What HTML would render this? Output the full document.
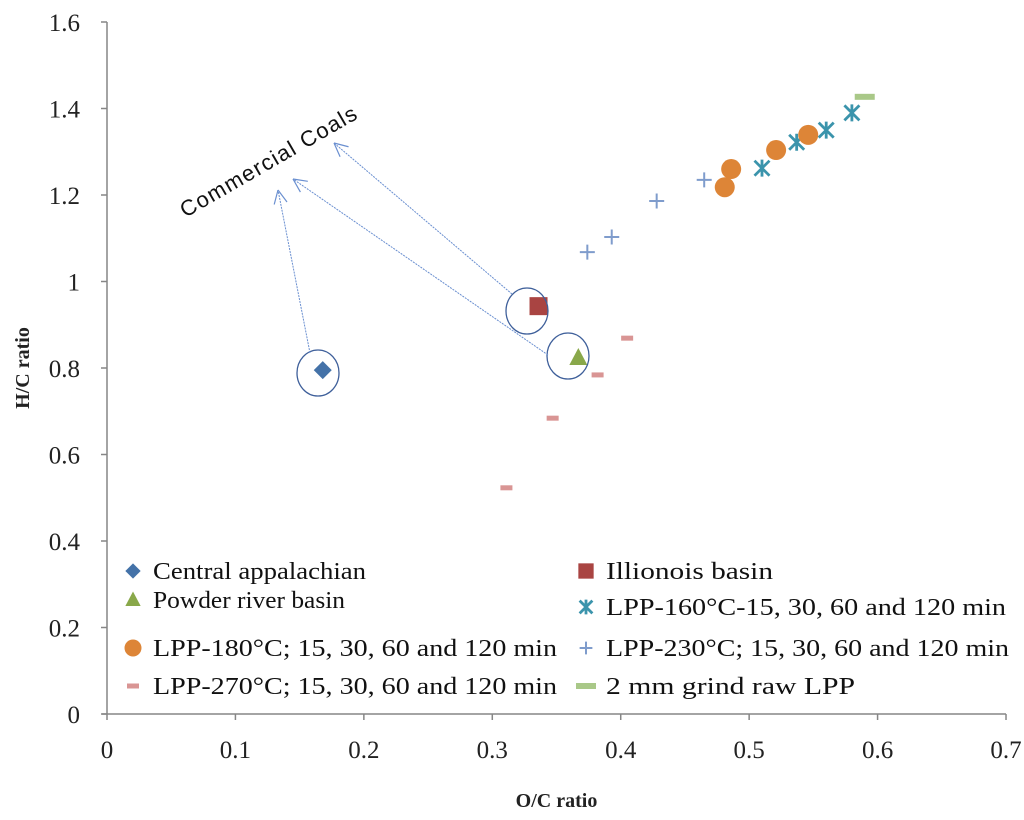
<!DOCTYPE html>
<html><head><meta charset="utf-8"><style>
html,body{margin:0;padding:0;background:#fff;}
svg text{font-family:"Liberation Serif",serif;}
</style></head><body>
<svg id="chart" width="1024" height="815" xmlns="http://www.w3.org/2000/svg">
<g id="axes"></g><g id="marks"></g><g id="annot"></g><g id="legend"></g>
</svg>
<script>
const xTicks=[0,0.1,0.2,0.3,0.4,0.5,0.6,0.7];
const yTicks=[0,0.2,0.4,0.6,0.8,1,1.2,1.4,1.6];
const centralX=[0.168], centralY=[0.795];
const illinoisX=[0.336], illinoisY=[0.943];
const powderX=[0.367], powderY=[0.823];
const lpp160X=[0.510,0.537,0.560,0.580], lpp160Y=[1.262,1.322,1.350,1.390];
const lpp180X=[0.481,0.486,0.521,0.546], lpp180Y=[1.218,1.260,1.304,1.339];
const lpp230X=[0.374,0.393,0.428,0.465], lpp230Y=[1.068,1.103,1.186,1.235];
const lpp270X=[0.311,0.347,0.382,0.405], lpp270Y=[0.523,0.684,0.784,0.869];
const rawX=[0.590], rawY=[1.427];

const NS="http://www.w3.org/2000/svg";
const X0=107,XS=1284.3,Y0=714,YS=432.5;
const sx=v=>X0+v*XS, sy=v=>Y0-v*YS;
function mk(tag,attrs,parent,txt){const e=document.createElementNS(NS,tag);for(const k in attrs)e.setAttribute(k,attrs[k]);if(txt!==undefined)e.textContent=txt;parent.appendChild(e);return e;}
const axes=document.getElementById('axes'),marks=document.getElementById('marks'),annot=document.getElementById('annot'),legend=document.getElementById('legend');

let a=mk('line',{x1:X0,y1:sy(1.6),x2:X0,y2:Y0,stroke:'#868686','stroke-width':1.5},axes);

a=mk('line',{x1:X0-5,y1:Y0,x2:sx(0.7),y2:Y0,stroke:'#868686','stroke-width':1.5},axes);

xTicks.forEach(t=>{
  const l=mk('line',{x1:sx(t),y1:Y0,x2:sx(t),y2:Y0+6,stroke:'#868686','stroke-width':1.5},axes);
  
  const tx=mk('text',{x:sx(t),y:Y0+44,'text-anchor':'middle','font-size':25,fill:'#222'},axes,String(t));
  
});
yTicks.forEach(t=>{
  const l=mk('line',{x1:X0-6,y1:sy(t),x2:X0,y2:sy(t),stroke:'#868686','stroke-width':1.5},axes);
  
  const tx=mk('text',{x:80,y:sy(t)+9,'text-anchor':'end','font-size':25,fill:'#222'},axes,String(t));
  
});
let t=mk('text',{x:sx(0.35),y:807,'text-anchor':'middle','font-size':20,'font-weight':'bold',fill:'#222'},axes,'O/C ratio');

t=mk('text',{x:0,y:0,'text-anchor':'middle','font-size':20,'font-weight':'bold',fill:'#222',transform:'translate(29,368) rotate(-90)'},axes,'H/C ratio');


function marker(type,x,y,g,s){
  s=s||1;
  if(type==='diamond'){return mk('path',{d:`M${x} ${y-9*s}L${x+9*s} ${y}L${x} ${y+9*s}L${x-9*s} ${y}Z`,fill:'#4472a8'},g);}
  if(type==='square'){return mk('rect',{x:x-9*s,y:y-9*s,width:18*s,height:18*s,fill:'#a94442'},g);}
  if(type==='triangle'){return mk('path',{d:`M${x} ${y-10*s}L${x+9*s} ${y+7*s}L${x-9*s} ${y+7*s}Z`,fill:'#89a84a'},g);}
  if(type==='star'){const p=7.5*s;return mk('path',{d:`M${x-p} ${y-p}L${x+p} ${y+p}M${x-p} ${y+p}L${x+p} ${y-p}M${x} ${y-p-1}L${x} ${y+p+1}`,stroke:'#3b94ac','stroke-width':2.8,fill:'none'},g);}
  if(type==='circle'){return mk('circle',{cx:x,cy:y,r:10*s,fill:'#dd8537'},g);}
  if(type==='plus'){const p=7.5*s;return mk('path',{d:`M${x-p} ${y}L${x+p} ${y}M${x} ${y-p}L${x} ${y+p}`,stroke:'#7f9ccc','stroke-width':2,fill:'none'},g);}
  if(type==='dash270'){return mk('rect',{x:x-6,y:y-2.5,width:12,height:5,fill:'#d99594'},g);}
  if(type==='dashraw'){return mk('rect',{x:x-10,y:y-3,width:20,height:6,fill:'#a9c888'},g);}
}
const series=[
 ['central-appalachian','diamond',centralX,centralY],
 ['illinois-basin','square',illinoisX,illinoisY],
 ['powder-river-basin','triangle',powderX,powderY],
 ['lpp-160','star',lpp160X,lpp160Y],
 ['lpp-180','circle',lpp180X,lpp180Y],
 ['lpp-230','plus',lpp230X,lpp230Y],
 ['lpp-270','dash270',lpp270X,lpp270Y],
 ['raw-lpp','dashraw',rawX,rawY]
];
series.forEach(s=>{
  s[2].forEach((xv,i)=>{
    const m=marker(s[1],sx(xv),sy(s[3][i]),marks);
    
    
  });
});

const ell=[[318,373],[527,311],[568,356]];
ell.forEach(c=>{const e=mk('ellipse',{cx:c[0],cy:c[1],rx:21,ry:23,fill:'none',stroke:'#3e5f9a','stroke-width':1.3},annot);
});
const arrows=[[310,353,278,190],[548,355,293,179],[512,294,334,143]];
arrows.forEach(r=>{
  const g=mk('g',{},annot);
  
  mk('line',{x1:r[0],y1:r[1],x2:r[2],y2:r[3],stroke:'#6a8fd0','stroke-width':1,'stroke-dasharray':'2 1'},g);
  const ang=Math.atan2(r[1]-r[3],r[0]-r[2]);
  [0.45,-0.45].forEach(d=>{mk('line',{x1:r[2],y1:r[3],x2:r[2]+15*Math.cos(ang+d),y2:r[3]+15*Math.sin(ang+d),stroke:'#6a8fd0','stroke-width':1.2},g);});
});
t=mk('text',{x:0,y:0,'text-anchor':'middle','font-size':22,fill:'#111',textLength:200,transform:'translate(272,168) rotate(-30)'},annot,'Commercial Coals');
t.style.fontFamily='"Liberation Sans",sans-serif';


const legItems=[
 ['diamond','Central appalachian',133,571,213],['square','Illionois basin',586,571,167],
 ['triangle','Powder river basin',133,600,192],['star','LPP-160°C-15, 30, 60 and 120 min',586,607,400],
 ['circle','LPP-180°C; 15, 30, 60 and 120 min',133,648,404],['plus','LPP-230°C; 15, 30, 60 and 120 min',586,648,403],
 ['dash270','LPP-270°C; 15, 30, 60 and 120 min',133,686,404],['dashraw','2 mm grind raw LPP',586,686,249]
];
legItems.forEach(it=>{
  const g=mk('g',{},legend);
  
  marker(it[0],it[2],it[3],g,0.85);
  mk('text',{x:it[2]+20,y:it[3]+8,'font-size':24,fill:'#111',textLength:it[4],lengthAdjust:'spacingAndGlyphs'},g,it[1]);
});
</script>
</body></html>
